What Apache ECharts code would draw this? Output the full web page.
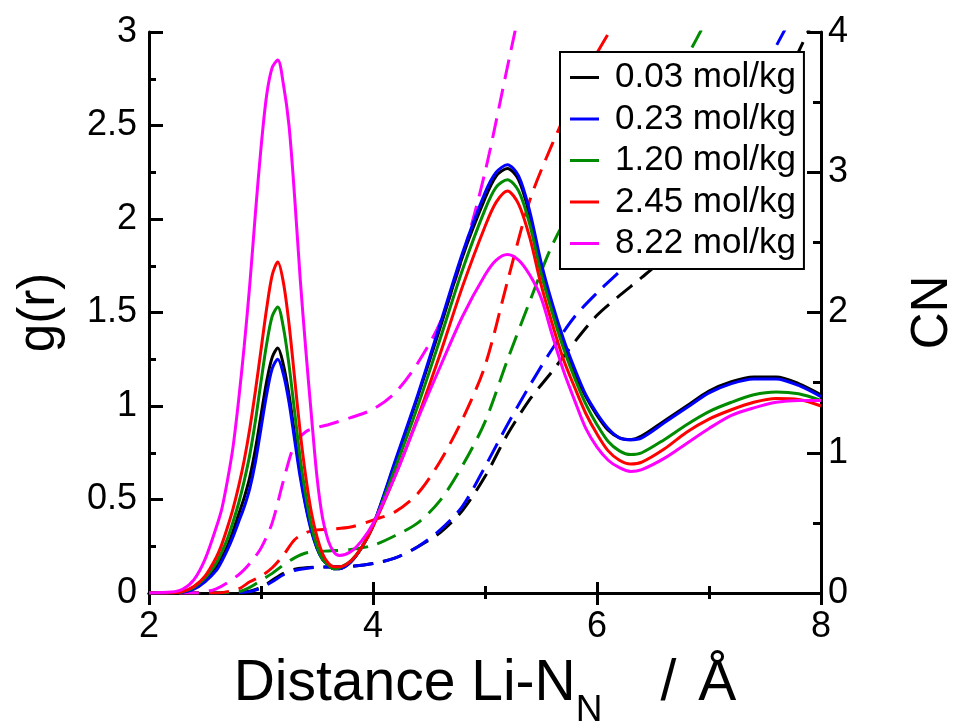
<!DOCTYPE html>
<html>
<head>
<meta charset="utf-8">
<script src="https://cdn.jsdelivr.net/npm/echarts@6/dist/echarts.min.js"></script>
<style>
    html, body { margin: 0; padding: 0; background: #fff; overflow: hidden; }
    #chart { width: 956px; height: 722px; }
</style>
</head>
<body>
<div id="chart"></div>
<script>
    // g(r) curves, Li-N_N distance in Angstrom
    var gR = [2.0, 2.2, 2.3, 2.4, 2.5, 2.6,
        2.65, 2.7, 2.75, 2.8, 2.85, 2.9, 2.95, 3.0, 3.05, 3.1, 3.15, 3.2, 3.25, 3.3, 3.35, 3.4, 3.45, 3.5, 3.55, 3.6, 3.65, 3.7,
        3.8, 3.9, 4.0,
        4.2, 4.4, 4.6, 4.8, 5.0,
        5.1, 5.2, 5.3, 5.4, 5.5, 5.6, 5.7, 5.8, 5.9, 6.0, 6.1, 6.2, 6.3, 6.4,
        6.6, 6.8, 7.0, 7.2, 7.4, 7.6, 7.8, 8.0];

    var g003 = [0, 0, 0.005, 0.025, 0.07, 0.14,
        0.19, 0.25, 0.33, 0.42, 0.51, 0.62, 0.77, 0.95, 1.13, 1.26, 1.31, 1.22, 1.06, 0.85, 0.64, 0.47, 0.34, 0.24, 0.18, 0.15, 0.13, 0.13,
        0.165, 0.245, 0.36,
        0.7, 1.05, 1.42, 1.8, 2.11,
        2.23, 2.27, 2.21, 2.02, 1.75, 1.53, 1.34, 1.18, 1.05, 0.95, 0.87, 0.83, 0.82, 0.84,
        0.92, 1.0, 1.08, 1.13, 1.155, 1.155, 1.12, 1.06];
    var g023 = [0, 0, 0.004, 0.02, 0.06, 0.12,
        0.17, 0.23, 0.3, 0.38, 0.46, 0.56, 0.7, 0.88, 1.06, 1.2, 1.25, 1.17, 1.02, 0.82, 0.62, 0.46, 0.33, 0.24, 0.18, 0.15, 0.13, 0.13,
        0.165, 0.245, 0.36,
        0.71, 1.06, 1.44, 1.82, 2.14,
        2.25, 2.29, 2.23, 2.04, 1.77, 1.55, 1.36, 1.2, 1.06, 0.96, 0.88, 0.83, 0.82, 0.83,
        0.91, 0.99, 1.07, 1.12, 1.145, 1.145, 1.11, 1.05];
    var g120 = [0, 0, 0.006, 0.03, 0.08, 0.16,
        0.22, 0.29, 0.38, 0.48, 0.6, 0.74, 0.92, 1.13, 1.33, 1.48, 1.53, 1.42, 1.22, 0.97, 0.72, 0.52, 0.36, 0.25, 0.18, 0.15, 0.13, 0.135,
        0.17, 0.245, 0.36,
        0.67, 1.0, 1.36, 1.73, 2.05,
        2.17, 2.21, 2.15, 1.97, 1.71, 1.5, 1.31, 1.15, 1.01, 0.9, 0.81, 0.76, 0.74, 0.75,
        0.82, 0.9, 0.97, 1.02, 1.06, 1.075, 1.065, 1.03];
    var g245 = [0, 0, 0.008, 0.035, 0.09, 0.19,
        0.26, 0.35, 0.45, 0.57, 0.71, 0.88, 1.08, 1.3, 1.52, 1.7, 1.77, 1.66, 1.44, 1.15, 0.86, 0.62, 0.43, 0.3, 0.21, 0.16, 0.14, 0.14,
        0.17, 0.245, 0.355,
        0.63, 0.94, 1.28, 1.64, 1.96,
        2.09, 2.15, 2.08, 1.9, 1.65, 1.44, 1.25, 1.1, 0.96, 0.85, 0.76, 0.71, 0.69, 0.7,
        0.77, 0.86, 0.93, 0.98, 1.02, 1.04, 1.035, 1.0];
    var g822 = [0, 0.005, 0.02, 0.07, 0.18, 0.35,
        0.45, 0.6, 0.78, 1.03, 1.32, 1.65, 2.03, 2.38, 2.66, 2.81, 2.85, 2.72, 2.5, 2.12, 1.68, 1.3, 0.95, 0.62, 0.4, 0.28, 0.22, 0.2,
        0.22, 0.28, 0.37,
        0.63, 0.93, 1.21, 1.48, 1.7,
        1.78, 1.81, 1.78, 1.7, 1.58, 1.38, 1.19, 1.03, 0.88, 0.78, 0.71, 0.67, 0.65, 0.66,
        0.72, 0.8, 0.88, 0.95, 0.99, 1.02, 1.03, 1.03];

    // running coordination numbers (right axis)
    var cnR = [2.0, 2.4, 2.6, 2.8, 2.9, 3.0, 3.1, 3.2, 3.3, 3.4, 3.5, 3.6, 3.8, 4.0, 4.2, 4.4, 4.6, 4.8,
        5.0, 5.2, 5.4, 5.6, 5.8, 6.0, 6.2, 6.4, 6.6, 6.8, 7.0, 7.2, 7.4, 7.6, 7.8, 8.0];

    var cn003 = [0, 0, 0, 0.003, 0.012, 0.04, 0.09, 0.14, 0.17, 0.18, 0.185, 0.186, 0.19, 0.21, 0.25, 0.33, 0.43, 0.59,
        0.83, 1.13, 1.38, 1.58, 1.79, 1.98, 2.12, 2.25, 2.39, 2.57, 2.77, 3.0, 3.25, 3.53, 3.86, 4.2];
    var cn023 = [0, 0, 0, 0.003, 0.01, 0.035, 0.08, 0.13, 0.16, 0.175, 0.183, 0.186, 0.19, 0.21, 0.25, 0.33, 0.45, 0.62,
        0.9, 1.2, 1.48, 1.74, 1.97, 2.14, 2.29, 2.44, 2.62, 2.83, 3.06, 3.32, 3.6, 3.9, 4.2, null];
    var cn120 = [0, 0, 0, 0.01, 0.04, 0.09, 0.14, 0.2, 0.25, 0.285, 0.295, 0.3, 0.31, 0.34, 0.41, 0.5, 0.66, 0.91,
        1.22, 1.66, 2.08, 2.48, 2.77, 2.98, 3.17, 3.35, 3.56, 3.82, 4.12, null, null, null, null, null];
    var cn245 = [0, 0, 0, 0.03, 0.08, 0.12, 0.18, 0.27, 0.38, 0.43, 0.45, 0.455, 0.47, 0.52, 0.58, 0.71, 0.94, 1.24,
        1.62, 2.22, 2.8, 3.2, 3.55, 3.85, 4.12, null, null, null, null, null, null, null, null, null];
    var cn822 = [0, 0, 0.03, 0.13, 0.21, 0.32, 0.5, 0.8, 1.06, 1.15, 1.18, 1.2, 1.25, 1.31, 1.43, 1.64, 1.93, 2.4,
        3.0, 3.75, 4.5, null, null, null, null, null, null, null, null, null, null, null, null, null];

    var names = ['0.03 mol/kg', '0.23 mol/kg', '1.20 mol/kg', '2.45 mol/kg', '8.22 mol/kg'];
    var colors = ['#000000', '#0000ff', '#008b00', '#ff0000', '#ff00ff'];
    var gSets = [g003, g023, g120, g245, g822];
    var cnSets = [cn003, cn023, cn120, cn245, cn822];

    var FF = '"Liberation Sans", Arial, Helvetica, sans-serif';

    function pairs(xs, ys) {
        return xs.map(function (x, i) { return [x, ys[i]]; });
    }

    var series = [];
    cnSets.forEach(function (ys, i) {
        series.push({
            name: 'CN ' + names[i],
            type: 'line',
            xAxisIndex: 0,
            yAxisIndex: 1,
            data: pairs(cnR, ys),
            showSymbol: false,
            symbol: 'none',
            smooth: 0.3,
            lineStyle: {color: colors[i], width: 3, type: [20, 10]},
            itemStyle: {color: colors[i]},
            z: 2
        });
    });
    gSets.forEach(function (ys, i) {
        series.push({
            name: names[i],
            type: 'line',
            xAxisIndex: 0,
            yAxisIndex: 0,
            data: pairs(gR, ys),
            showSymbol: false,
            symbol: 'none',
            smooth: 0.3,
            lineStyle: {color: colors[i], width: 3},
            itemStyle: {color: colors[i]},
            z: 3
        });
    });

    var tickStyle = {color: '#000', width: 3};
    var lineStyle = {color: '#000', width: 3};

    var chart = echarts.init(document.getElementById('chart'), null, {renderer: 'canvas'});
    chart.setOption({
        animation: false,
        backgroundColor: '#fff',
        grid: {left: 149, right: 135, top: 32, bottom: 129, outerBoundsMode: 'none', containLabel: false},
        legend: {
            data: names,
            orient: 'vertical',
            left: 560,
            top: 52,
            backgroundColor: '#fff',
            borderColor: '#000',
            borderWidth: 2,
            borderRadius: 0,
            padding: [8, 8, 8, 10],
            itemWidth: 29,
            itemHeight: 3,
            itemGap: 6.5,
            icon: 'rect',
            selectedMode: false,
            textStyle: {fontSize: 35, color: '#000', fontFamily: FF, lineHeight: 35, padding: [0, 0, 0, 11]},
            z: 10
        },
        xAxis: [{
            type: 'value',
            position: 'bottom',
            min: 2, max: 8, interval: 2,
            name: '{m|Distance Li-N}{s|N}{b|/}{a|Å}',
            nameLocation: 'middle',
            nameGap: 63,
            nameTextStyle: {
                color: '#000', fontFamily: FF,
                rich: {
                    m: {fontSize: 57, color: '#000', fontFamily: FF, verticalAlign: 'top'},
                    b: {fontSize: 57, color: '#000', fontFamily: FF, verticalAlign: 'top', padding: [0, 0, 0, 58]},
                    a: {fontSize: 57, color: '#000', fontFamily: FF, verticalAlign: 'top', padding: [0, 0, 0, 22]},
                    s: {fontSize: 37, color: '#000', fontFamily: FF, verticalAlign: 'top', padding: [36, 0, 0, 0]}
                }
            },
            axisLine: {show: true, lineStyle: lineStyle},
            axisTick: {show: true, inside: true, length: 11, lineStyle: tickStyle},
            minorTick: {show: true, splitNumber: 2, length: 7, lineStyle: tickStyle},
            axisLabel: {fontSize: 36, color: '#000', fontFamily: FF, margin: 16},
            splitLine: {show: false}
        }, {
            type: 'value',
            position: 'top',
            min: 2, max: 8, interval: 2,
            axisLine: {show: true, lineStyle: lineStyle},
            axisTick: {show: true, inside: true, length: 12, lineStyle: tickStyle},
            minorTick: {show: true, splitNumber: 2, length: 6, lineStyle: tickStyle},
            axisLabel: {show: false},
            splitLine: {show: false}
        }, {
            type: 'value',
            position: 'bottom',
            min: 2, max: 8, interval: 2,
            axisLine: {show: false},
            axisTick: {show: true, inside: false, length: 11, lineStyle: tickStyle},
            minorTick: {show: true, splitNumber: 2, length: 5, lineStyle: tickStyle},
            axisLabel: {show: false},
            splitLine: {show: false}
        }],
        yAxis: [{
            type: 'value',
            position: 'left',
            min: 0, max: 3, interval: 0.5,
            name: 'g(r)',
            nameLocation: 'middle',
            nameRotate: 90,
            nameGap: 84,
            nameTextStyle: {fontSize: 51, color: '#000', fontFamily: FF},
            axisLine: {show: true, lineStyle: lineStyle},
            axisTick: {show: true, inside: true, length: 14, lineStyle: tickStyle},
            minorTick: {show: true, splitNumber: 2, length: 7, lineStyle: tickStyle},
            axisLabel: {fontSize: 36, color: '#000', fontFamily: FF, margin: 12},
            splitLine: {show: false}
        }, {
            type: 'value',
            position: 'right',
            min: 0, max: 4, interval: 1,
            name: 'CN',
            nameLocation: 'middle',
            nameRotate: 90,
            nameGap: 86,
            nameTextStyle: {fontSize: 51, color: '#000', fontFamily: FF},
            axisLine: {show: true, lineStyle: lineStyle},
            axisTick: {show: true, inside: true, length: 14, lineStyle: tickStyle},
            minorTick: {show: true, splitNumber: 2, length: 8, lineStyle: tickStyle},
            axisLabel: {fontSize: 36, color: '#000', fontFamily: FF, margin: 7},
            splitLine: {show: false}
        }],
        series: series
    });
</script>
</body>
</html>
